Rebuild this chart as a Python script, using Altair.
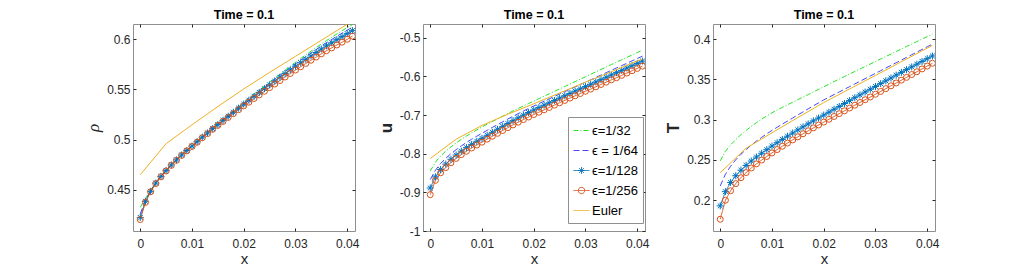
import altair as alt
import pandas as pd

# ---------------- data ----------------
x_eps = [0.000, 0.001, 0.002, 0.003, 0.004, 0.005, 0.006, 0.007, 0.008, 0.009,
         0.010, 0.011, 0.012, 0.013, 0.014, 0.015, 0.016, 0.017, 0.018, 0.019,
         0.020, 0.021, 0.022, 0.023, 0.024, 0.025, 0.026, 0.027, 0.028, 0.029,
         0.030, 0.031, 0.032, 0.033, 0.034, 0.035, 0.036, 0.037, 0.038, 0.039,
         0.040, 0.041]
x_euler = [0.000, 0.005, 0.010, 0.015, 0.020, 0.025, 0.030, 0.035, 0.040, 0.041]

series_labels = ["ϵ=1/32", "ϵ = 1/64", "ϵ=1/128", "ϵ=1/256", "Euler"]

rho_32 = [0.4326, 0.4413, 0.4495, 0.4572, 0.4639, 0.4697, 0.4753, 0.4803, 0.4852, 0.4897,
          0.4941, 0.4985, 0.5030, 0.5072, 0.5115, 0.5158, 0.5201, 0.5243, 0.5285, 0.5327,
          0.5369, 0.5411, 0.5452, 0.5493, 0.5533, 0.5574, 0.5614, 0.5653, 0.5692, 0.5731,
          0.5770, 0.5808, 0.5845, 0.5881, 0.5917, 0.5953, 0.5988, 0.6020, 0.6053, 0.6085,
          0.6116, 0.6146]
rho_64 = [0.4260, 0.4398, 0.4488, 0.4570, 0.4637, 0.4695, 0.4751, 0.4801, 0.4850, 0.4895,
          0.4939, 0.4983, 0.5028, 0.5070, 0.5113, 0.5155, 0.5198, 0.5240, 0.5281, 0.5323,
          0.5364, 0.5405, 0.5446, 0.5485, 0.5524, 0.5563, 0.5602, 0.5640, 0.5678, 0.5717,
          0.5755, 0.5792, 0.5828, 0.5863, 0.5898, 0.5933, 0.5967, 0.5998, 0.6030, 0.6061,
          0.6091, 0.6120]
rho_128 = [0.4225, 0.4386, 0.4485, 0.4567, 0.4634, 0.4692, 0.4748, 0.4798, 0.4847, 0.4892,
           0.4936, 0.4980, 0.5025, 0.5067, 0.5110, 0.5150, 0.5192, 0.5233, 0.5273, 0.5314,
           0.5354, 0.5393, 0.5432, 0.5470, 0.5508, 0.5546, 0.5584, 0.5621, 0.5658, 0.5695,
           0.5731, 0.5766, 0.5800, 0.5834, 0.5868, 0.5902, 0.5935, 0.5965, 0.5996, 0.6026,
           0.6056, 0.6086]
rho_256 = [0.4204, 0.4375, 0.4481, 0.4563, 0.4630, 0.4688, 0.4744, 0.4794, 0.4843, 0.4888,
           0.4932, 0.4974, 0.5019, 0.5060, 0.5103, 0.5142, 0.5182, 0.5221, 0.5259, 0.5298,
           0.5336, 0.5373, 0.5410, 0.5446, 0.5482, 0.5518, 0.5554, 0.5589, 0.5624, 0.5659,
           0.5693, 0.5726, 0.5759, 0.5791, 0.5823, 0.5855, 0.5886, 0.5914, 0.5943, 0.5971,
           0.6000, 0.6031]
rho_euler = [0.465, 0.496, 0.5148, 0.533, 0.5505, 0.567, 0.583, 0.599, 0.615, 0.618]

u_32 = [-0.8450, -0.8220, -0.8060, -0.7935, -0.7825, -0.7725, -0.7632, -0.7545, -0.7463, -0.7385,
        -0.7310, -0.7238, -0.7168, -0.7100, -0.7030, -0.6962, -0.6895, -0.6830, -0.6766, -0.6703,
        -0.6640, -0.6577, -0.6514, -0.6451, -0.6388, -0.6325, -0.6262, -0.6199, -0.6136, -0.6073,
        -0.6010, -0.5947, -0.5884, -0.5821, -0.5758, -0.5695, -0.5633, -0.5571, -0.5509, -0.5447,
        -0.5385, -0.5323]
u_64 = [-0.8670, -0.8429, -0.8253, -0.8119, -0.8001, -0.7896, -0.7799, -0.7710, -0.7626, -0.7547,
        -0.7472, -0.7396, -0.7321, -0.7249, -0.7175, -0.7103, -0.7033, -0.6964, -0.6897, -0.6831,
        -0.6767, -0.6704, -0.6642, -0.6580, -0.6518, -0.6456, -0.6394, -0.6333, -0.6272, -0.6211,
        -0.6150, -0.6089, -0.6028, -0.5966, -0.5905, -0.5844, -0.5783, -0.5722, -0.5661, -0.5600,
        -0.5539, -0.5478]
u_128 = [-0.8887, -0.8600, -0.8410, -0.8270, -0.8145, -0.8035, -0.7935, -0.7845, -0.7760, -0.7680,
         -0.7605, -0.7525, -0.7447, -0.7370, -0.7294, -0.7219, -0.7146, -0.7074, -0.7004, -0.6936,
         -0.6870, -0.6808, -0.6746, -0.6685, -0.6624, -0.6563, -0.6502, -0.6442, -0.6383, -0.6324,
         -0.6265, -0.6205, -0.6145, -0.6085, -0.6025, -0.5965, -0.5905, -0.5845, -0.5785, -0.5725,
         -0.5665, -0.5605]
u_256 = [-0.9060, -0.8690, -0.8495, -0.8360, -0.8235, -0.8123, -0.8025, -0.7937, -0.7854, -0.7776,
         -0.7703, -0.7625, -0.7549, -0.7474, -0.7400, -0.7327, -0.7256, -0.7186, -0.7118, -0.7052,
         -0.6988, -0.6928, -0.6866, -0.6805, -0.6744, -0.6683, -0.6622, -0.6562, -0.6503, -0.6444,
         -0.6385, -0.6330, -0.6270, -0.6210, -0.6150, -0.6090, -0.6035, -0.5975, -0.5915, -0.5855,
         -0.5795, -0.5735]
u_euler = [-0.8126, -0.7626, -0.727, -0.698, -0.671, -0.643, -0.615, -0.588, -0.5605, -0.555]

T_32 = [0.2486, 0.2605, 0.2685, 0.2752, 0.2811, 0.2865, 0.2915, 0.2961, 0.3004, 0.3045,
        0.3084, 0.3118, 0.3151, 0.3183, 0.3215, 0.3247, 0.3279, 0.3311, 0.3343, 0.3375,
        0.3407, 0.3439, 0.3471, 0.3503, 0.3535, 0.3566, 0.3597, 0.3628, 0.3659, 0.3690,
        0.3721, 0.3752, 0.3783, 0.3814, 0.3845, 0.3876, 0.3907, 0.3938, 0.3969, 0.4000,
        0.4031, 0.4062]
T_64 = [0.2175, 0.2320, 0.2420, 0.2500, 0.2568, 0.2628, 0.2682, 0.2732, 0.2779, 0.2823,
        0.2865, 0.2904, 0.2943, 0.2981, 0.3019, 0.3057, 0.3095, 0.3133, 0.3170, 0.3207,
        0.3244, 0.3277, 0.3310, 0.3343, 0.3376, 0.3409, 0.3442, 0.3475, 0.3508, 0.3541,
        0.3574, 0.3607, 0.3640, 0.3673, 0.3706, 0.3739, 0.3772, 0.3805, 0.3838, 0.3871,
        0.3904, 0.3937]
T_128 = [0.1927, 0.2104, 0.2218, 0.2302, 0.2370, 0.2430, 0.2484, 0.2534, 0.2581, 0.2626,
         0.2670, 0.2712, 0.2753, 0.2793, 0.2832, 0.2871, 0.2909, 0.2946, 0.2983, 0.3019,
         0.3055, 0.3091, 0.3127, 0.3163, 0.3199, 0.3235, 0.3271, 0.3306, 0.3341, 0.3376,
         0.3411, 0.3446, 0.3481, 0.3516, 0.3551, 0.3586, 0.3620, 0.3654, 0.3688, 0.3722,
         0.3756, 0.3790]
T_256 = [0.1761, 0.1997, 0.2115, 0.2204, 0.2277, 0.2341, 0.2398, 0.2449, 0.2496, 0.2541,
         0.2585, 0.2627, 0.2668, 0.2708, 0.2747, 0.2785, 0.2823, 0.2860, 0.2896, 0.2932,
         0.2968, 0.3003, 0.3038, 0.3073, 0.3108, 0.3143, 0.3178, 0.3212, 0.3246, 0.3280,
         0.3314, 0.3349, 0.3384, 0.3419, 0.3454, 0.3489, 0.3524, 0.3559, 0.3594, 0.3629,
         0.3664, 0.3699]
T_euler = [0.234, 0.2644, 0.2835, 0.3025, 0.3211, 0.338, 0.3548, 0.3718, 0.3888, 0.3922]

x_ticks = [0, 0.01, 0.02, 0.03, 0.04]
rho_ticks = [0.45, 0.5, 0.55, 0.6]
u_ticks = [-1, -0.9, -0.8, -0.7, -0.6, -0.5]
T_ticks = [0.2, 0.25, 0.3, 0.35, 0.4]

# ---------------- styling ----------------
series_colors = ["#22e622", "#4646ff", "#0072BD", "#D95319", "#EDB120"]
series_dashes = [[5, 2, 1, 2], [6, 3], [1, 0], [1, 0], [1, 0]]
STAR = "M-1,0L1,0M0,-1L0,1M-0.7,-0.7L0.7,0.7M-0.7,0.7L0.7,-0.7"
legend_paths = [
    "M-1,0L1,0",
    "M-1,0L1,0",
    "M-1,0L1,0M-0.42,0L0.42,0M0,-0.42L0,0.42M-0.3,-0.3L0.3,0.3M-0.3,0.3L0.3,-0.3",
    "M-1,0L1,0M0.4,0A0.4,0.4 0 1,1 -0.4,0A0.4,0.4 0 1,1 0.4,0",
    "M-1,0L1,0",
]
FONT = "Liberation Sans"
XDOM = [-0.0014, 0.0415]
W, H = 222, 207
LABEL_EXPR = "replace(format(datum.value, '~g'), '\u2212', '-')"


def long_frame(xs, cols):
    rows = []
    for name, vals in cols:
        for xv, yv in zip(xs, vals):
            rows.append({"x": xv, "y": yv, "series": name})
    return pd.DataFrame(rows)


def panel(vals32, vals64, vals128, vals256, vals_euler, ydom, yticks, ytitle,
          ytitle_font, ytitle_size, ytitle_weight, ytitle_style, with_legend=False):
    df_eps = long_frame(x_eps, [(series_labels[0], vals32), (series_labels[1], vals64),
                                (series_labels[2], vals128), (series_labels[3], vals256)])
    df_128 = long_frame(x_eps, [(series_labels[2], vals128)])
    df_256 = long_frame(x_eps, [(series_labels[3], vals256)])
    df_eu = long_frame(x_euler, [(series_labels[4], vals_euler)])

    xscale = alt.Scale(domain=XDOM, nice=False, zero=False)
    yscale = alt.Scale(domain=ydom, nice=False, zero=False)
    cscale = alt.Scale(domain=series_labels, range=series_colors)
    dscale = alt.Scale(domain=series_labels, range=series_dashes)

    x_main = alt.X("x:Q", scale=xscale, axis=alt.Axis(
        orient="bottom", values=x_ticks, labelExpr=LABEL_EXPR, title="x",
        offset=-3, tickSize=3, domain=False, grid=False, labelPadding=7,
        titlePadding=2, titleFont=FONT, titleFontSize=15, titleFontWeight="normal"))
    y_main = alt.Y("y:Q", scale=yscale, axis=alt.Axis(
        orient="left", values=yticks, labelExpr=LABEL_EXPR, title=ytitle,
        offset=-3, tickSize=3, domain=False, grid=False, labelPadding=3,
        titlePadding=4, titleFont=ytitle_font, titleFontSize=ytitle_size,
        titleFontWeight=ytitle_weight, titleFontStyle=ytitle_style))
    x_sec = alt.X("x:Q", scale=xscale, axis=alt.Axis(
        orient="top", values=x_ticks, labels=False, title=None, offset=-3,
        tickSize=3, domain=False, grid=False))
    y_sec = alt.Y("y:Q", scale=yscale, axis=alt.Axis(
        orient="right", values=yticks, labels=False, title=None, offset=-3,
        tickSize=3, domain=False, grid=False))
    x_none = alt.X("x:Q", scale=xscale, axis=None)
    y_none = alt.Y("y:Q", scale=yscale, axis=None)

    if with_legend:
        color_enc = alt.Color("series:N", scale=cscale)
        dash_enc = alt.StrokeDash("series:N", scale=dscale)
    else:
        color_enc = alt.Color("series:N", scale=cscale, legend=None)
        dash_enc = alt.StrokeDash("series:N", scale=dscale, legend=None)

    lines = alt.Chart(df_eps).mark_line(strokeWidth=1, clip=True).encode(
        x=x_main, y=y_main, color=color_enc, strokeDash=dash_enc,
    )
    stars = alt.Chart(df_128).mark_point(
        shape=STAR, size=49, filled=False, strokeWidth=1, color="#0072BD",
        opacity=1, clip=True).encode(x=x_none, y=y_none)
    circles = alt.Chart(df_256).mark_point(
        shape="circle", size=36, filled=False, strokeWidth=1, color="#D95319",
        opacity=1, clip=True).encode(x=x_none, y=y_none)
    euler = alt.Chart(df_eu).mark_line(
        strokeWidth=1, color="#EDB120", clip=True).encode(x=x_sec, y=y_sec)
    layers = [lines, stars, circles, euler]

    if with_legend:
        leg = alt.Legend(
            title=None, orient="none", legendX=145, legendY=93, direction="vertical",
            fillColor="white", strokeColor="#8f8f8f", padding=5, cornerRadius=0,
            labelFont=FONT, labelFontSize=13, labelColor="black", labelOffset=2,
            symbolSize=256, symbolStrokeWidth=1, symbolOpacity=1, rowPadding=4,
            labelLimit=200)
        # legend carrier: draws no marks (all rows filtered out), only the legend
        carrier = alt.Chart(df_eu).transform_filter("datum.x > 1").mark_point(
            opacity=1, filled=False, strokeWidth=1).encode(
            x=x_none, y=y_none,
            color=alt.Color("series:N", scale=cscale, legend=leg),
            shape=alt.Shape("series:N", scale=alt.Scale(domain=series_labels,
                                                        range=legend_paths), legend=leg),
            strokeDash=alt.StrokeDash("series:N", scale=dscale, legend=leg),
        )
        layers = [carrier] + layers

    return alt.layer(*layers).resolve_axis(x="independent", y="independent").properties(
        width=W, height=H,
        title=alt.Title("Time = 0.1", font=FONT, fontSize=12.5, fontWeight="bold",
                        color="black", offset=2),
    )


p1 = panel(rho_32, rho_64, rho_128, rho_256, rho_euler, [0.409, 0.6152], rho_ticks,
           "ρ", "Liberation Serif", 17, "normal", "italic")
p2 = panel(u_32, u_64, u_128, u_256, u_euler, [-1.0, -0.4646], u_ticks,
           "u", "Liberation Sans", 17, "bold", "normal", with_legend=True)
p3 = panel(T_32, T_64, T_128, T_256, T_euler, [0.1615, 0.4187], T_ticks,
           "T", "Liberation Sans", 17, "bold", "normal")

chart = alt.hconcat(p1, p2, p3, spacing=68, bounds="flush").resolve_scale(
    color="independent", shape="independent", strokeDash="independent"
).resolve_legend(
    color="independent", shape="independent", strokeDash="independent"
).properties(
    padding={"left": 76, "top": 0, "right": 5, "bottom": 0}
).configure(
    font=FONT,
).configure_view(
    stroke="#8f8f8f", strokeWidth=1
).configure_axis(
    labelFont=FONT, labelFontSize=12, labelColor="#262626",
    tickColor="#262626", tickWidth=1, titleColor="#262626",
)

chart.save("out.html", embed_options={"renderer": "svg", "actions": False})
